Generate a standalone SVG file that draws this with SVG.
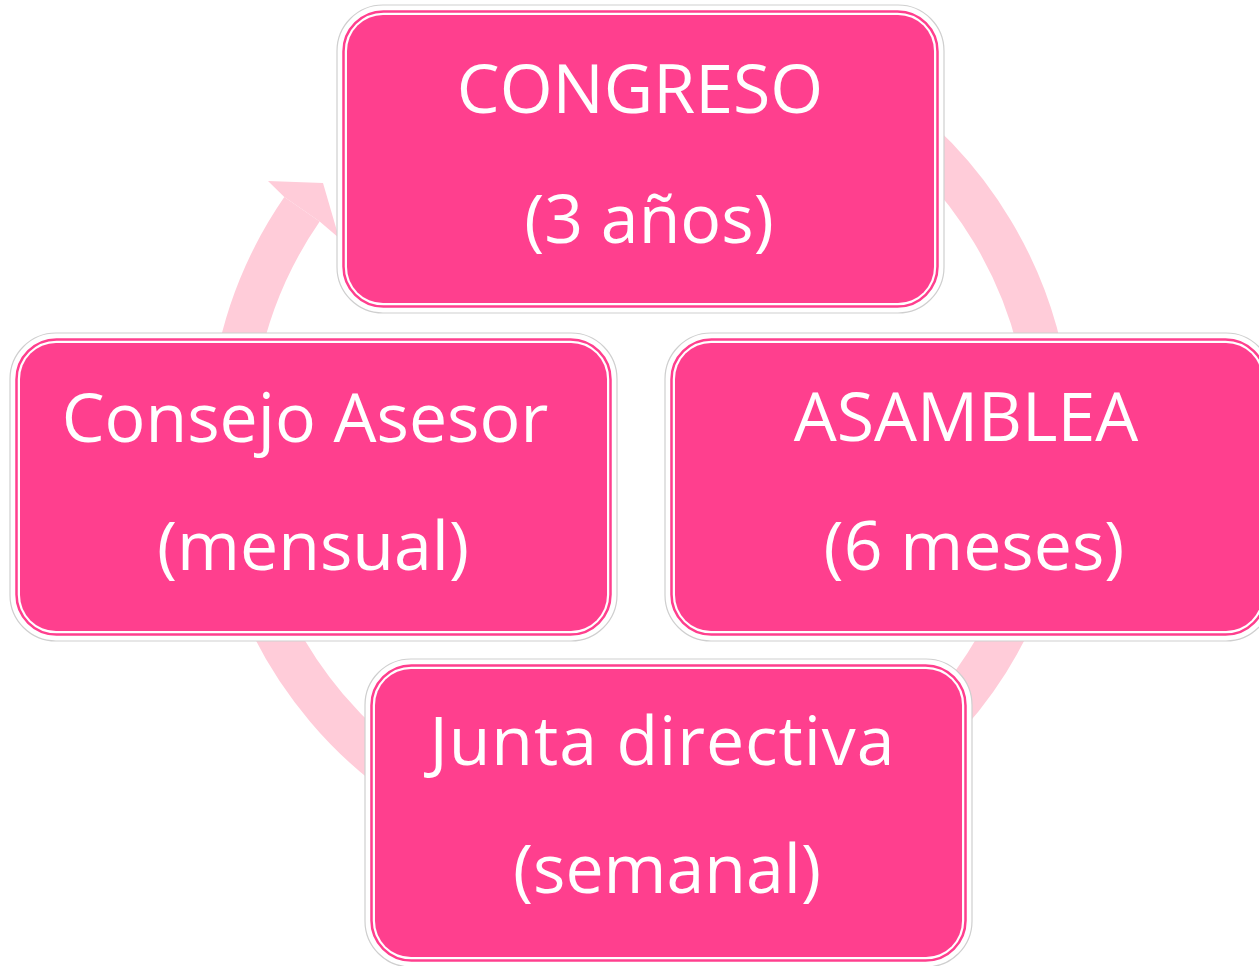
<svg xmlns="http://www.w3.org/2000/svg" width="1259" height="966" viewBox="0 0 1259 966">
<style>
.ring{fill:none;stroke:#FFCCD9;stroke-width:43;stroke-linecap:butt}
.head{fill:#FFCCD9}
.halo{fill:#FFFFFF;stroke:#CFCFCF;stroke-width:1.2}
.line{fill:none;stroke:#FF3F8E;stroke-width:2.5}
.fill{fill:#FF3F8E}
.t{font-family:"Open Sans","DejaVu Sans",sans-serif;font-size:68px;fill:#FFFFFF;text-anchor:middle}
</style>
<rect width="1259" height="966" fill="#FFFFFF"/>
<g id="connectors">
<path class="ring" d="M711.3,38 A410.7,410.7 0 1 1 302,209.3"/>
<polygon class="head" points="284.3,197.1 268,181 323,183 339,238 319.7,221.5"/>
</g>
<g id="congreso">
<rect class="halo" x="337" y="5" width="607" height="308" rx="46"/>
<rect class="line" x="343.5" y="11.5" width="594" height="295" rx="40"/>
<rect class="fill" x="347" y="15" width="587" height="288" rx="36"/>
<text class="t" x="640" y="113">CONGRESO</text>
<text class="t" x="649" y="243">(3 años)</text>
</g>
<g id="consejo">
<rect class="halo" x="10" y="333" width="607" height="308" rx="46"/>
<rect class="line" x="16.5" y="339.5" width="594" height="295" rx="40"/>
<rect class="fill" x="20" y="343" width="587" height="288" rx="36"/>
<text class="t" x="305" y="442">Consejo Asesor</text>
<text class="t" x="313" y="570">(mensual)</text>
</g>
<g id="asamblea">
<rect class="halo" x="665" y="333" width="607" height="308" rx="46"/>
<rect class="line" x="671.5" y="339.5" width="594" height="295" rx="40"/>
<rect class="fill" x="675" y="343" width="587" height="288" rx="36"/>
<text class="t" x="966" y="441">ASAMBLEA</text>
<text class="t" x="974" y="570">(6 meses)</text>
</g>
<g id="junta">
<rect class="halo" x="365" y="659" width="607" height="308" rx="46"/>
<rect class="line" x="371.5" y="665.5" width="594" height="295" rx="40"/>
<rect class="fill" x="375" y="669" width="587" height="288" rx="36"/>
<text class="t" x="662" y="765" textLength="465" lengthAdjust="spacing">Junta directiva</text>
<text class="t" x="667" y="893">(semanal)</text>
</g>
</svg>
